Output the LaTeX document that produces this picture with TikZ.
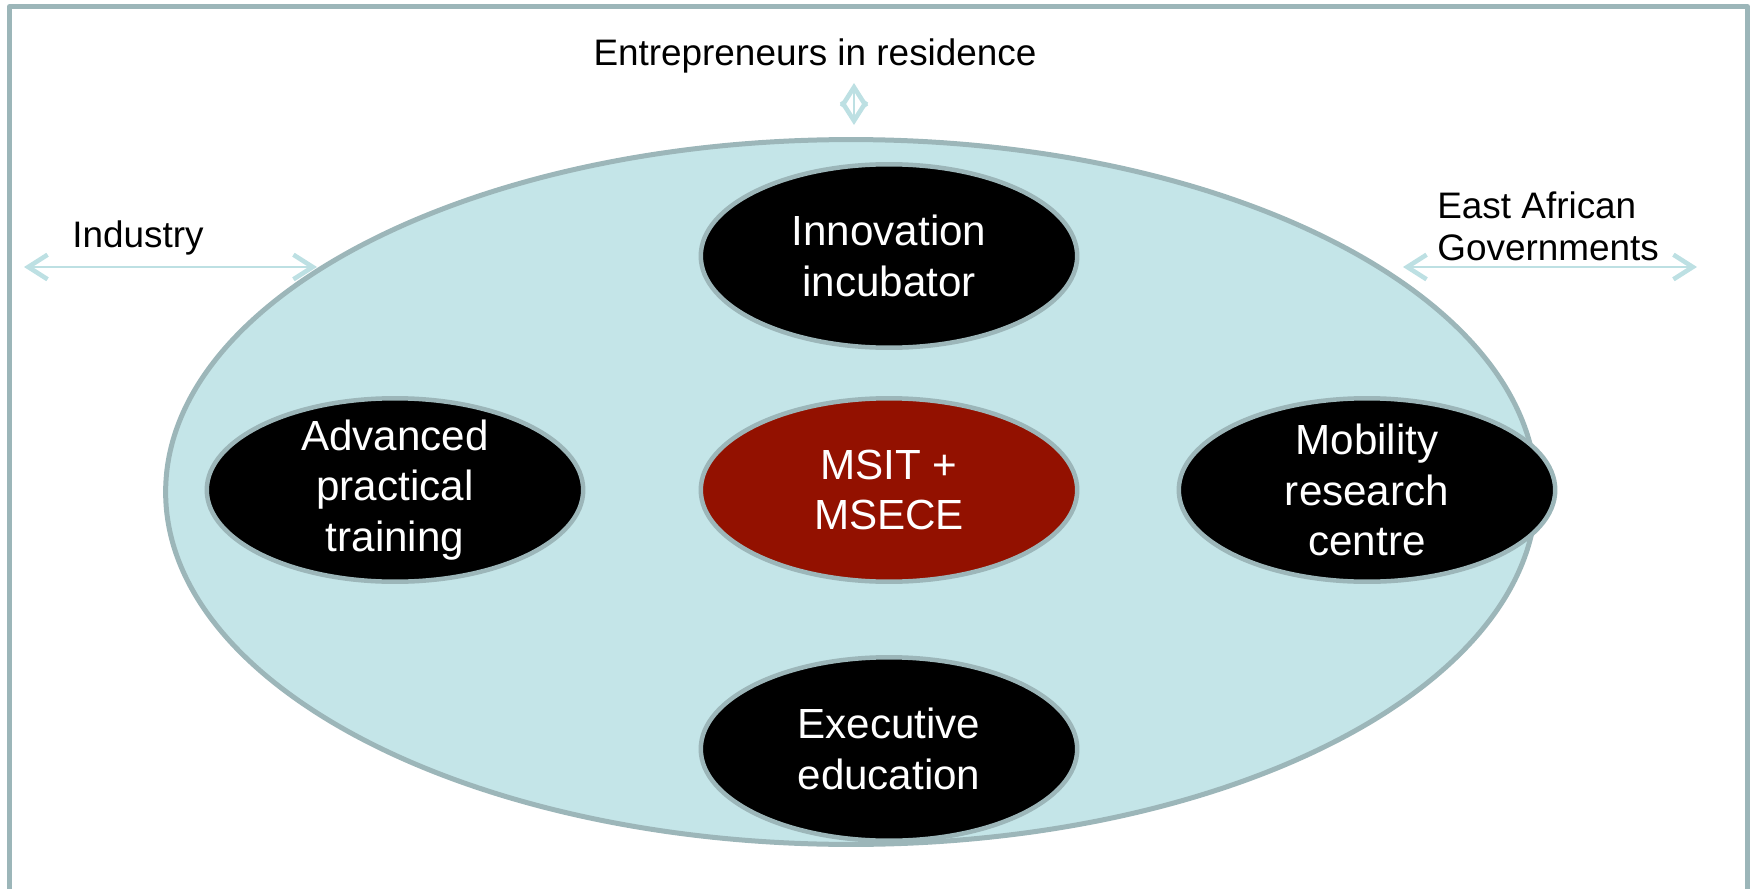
\documentclass[tikz,border=0pt]{standalone}
\usepackage{fontspec}
\setmainfont{Liberation Sans}
\usetikzlibrary{shapes.geometric,arrows.meta}
\definecolor{framegray}{HTML}{9CB6B9}
\definecolor{hubfill}{HTML}{C4E5E8}
\definecolor{linkblue}{HTML}{BDE0E3}
\definecolor{msitred}{HTML}{931100}
\begin{document}
\begin{tikzpicture}[x=0.02cm, y=-0.02cm,
		hub/.style={ellipse, draw=framegray, fill=hubfill, line width=0.1cm, minimum width=27.42cm, minimum height=14.1cm, inner sep=0pt},
		blob/.style={ellipse, draw=framegray, fill=black, line width=0.09cm, minimum width=7.53cm, minimum height=3.67cm, inner sep=0pt},
		blobtext/.style={text=white, align=center, inner sep=0pt, font=\fontsize{24}{28.8}\selectfont},
		side/.style={inner sep=0pt, font=\fontsize{21}{24.4}\selectfont},
		barb/.tip={Straight Barb[length=11pt, width=14pt, line width=2.6pt]},
		link/.style={linkblue, line width=0.04cm, barb-barb}]
		\useasboundingbox (0,0) rectangle (1756,889);
		\draw[framegray, line width=0.1cm, line join=round] (9.5,900) -- (9.5,6.5) -- (1747.5,6.5) -- (1747.5,900);
		% outer ellipse and the five units
		\node[hub] (hub) at (851,492) {};
		\node[blob] (inc) at (889,256) {};
		\node[blobtext] (inctext) at (inc) {Innovation\\incubator};
		\node[blob] (apt) at (395,490) {};
		\node[blobtext] (apttext) at (apt) {Advanced\\practical\\training};
		\node[blob, fill=msitred] (msit) at (889,490) {};
		\node[blobtext] (msittext) at (msit) {MSIT +\\MSECE};
		\node[blob] (mob) at (1367,490) {};
		\node[blobtext] (mobtext) at (mob) {Mobility\\research\\centre};
		\node[blob] (exe) at (889,749) {};
		\node[blobtext] (exetext) at (exe) {Executive\\education};
		% partners outside
		\node[side, anchor=base] (eir) at (815,65) {Entrepreneurs in residence};
		\node[side, anchor=base] (ind) at (138,247) {Industry};
		\node[side, anchor=north west, align=left] (eag) at (1437,191) {East African\\Governments};
		\coordinate (eirtop) at (854,83);
		\coordinate (eirbot) at (854,125);
		\coordinate (indl) at (24,267);
		\coordinate (indr) at (317,267);
		\coordinate (eagl) at (1403,267);
		\coordinate (eagr) at (1697,267);
		\draw[link] (eirtop) -- (eirbot);
		\draw[link] (indl) -- (indr);
		\draw[link] (eagl) -- (eagr);
\end{tikzpicture}
\end{document}
